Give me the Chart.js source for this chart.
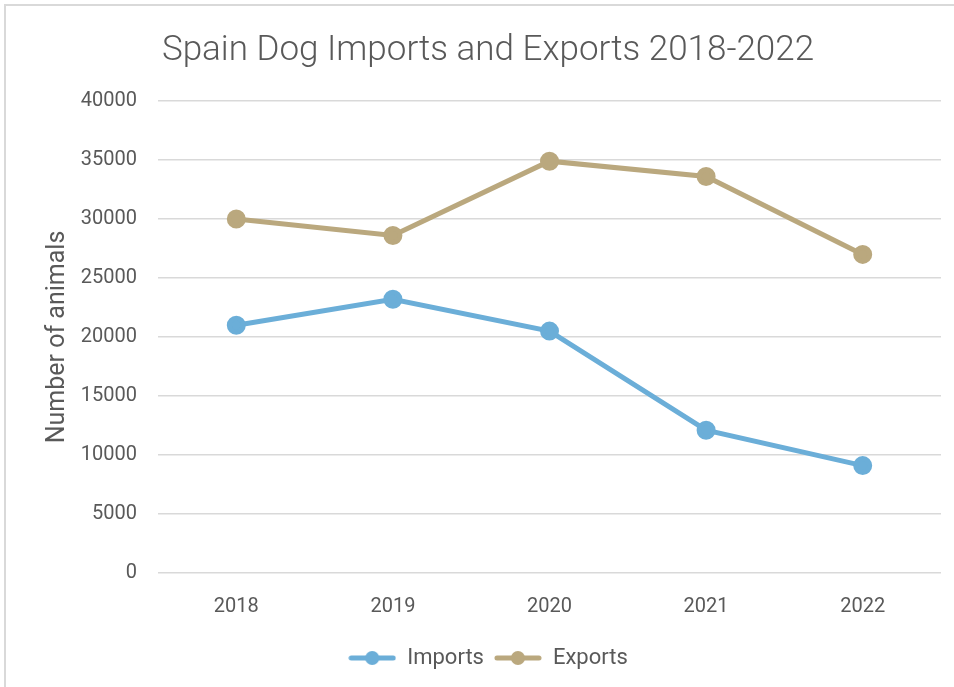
<!DOCTYPE html>
<html>
<head>
<meta charset="utf-8">
<script src="https://cdn.jsdelivr.net/npm/chart.js@4.4.1/dist/chart.umd.min.js"></script>
<style>
  html, body { margin: 0; padding: 0; background: #fff; overflow: hidden; }
  #frame {
    position: absolute; left: 4px; top: 4px; width: 2000px; height: 2000px;
    border: 2px solid #d9d9d9; box-sizing: border-box;
  }
  #wrap { position: absolute; left: 0; top: 0; width: 954px; height: 687px; }
</style>
</head>
<body>
<div id="frame"></div>
<div id="wrap"><canvas id="myChart"></canvas></div>
<script>
const years = ['2018', '2019', '2020', '2021', '2022'];
const imports = [21000, 23200, 20500, 12100, 9100];
const exports = [30000, 28600, 34900, 33600, 27000];

const blue = 'rgb(107, 174, 216)';
const tan = 'rgb(186, 168, 126)';
const textColor = '#595959';
const fontFamily = 'Roboto, "Noto Sans", sans-serif';

// legend marker: a short line with a dot in the middle
const legendMarker = (color) => {
    const c = document.createElement('canvas');
    c.width = 48;
    c.height = 16;
    const g = c.getContext('2d');
    g.strokeStyle = color;
    g.lineWidth = 5;
    g.lineCap = 'round';
    g.beginPath();
    g.moveTo(3, 8);
    g.lineTo(45, 8);
    g.stroke();
    g.fillStyle = color;
    g.beginPath();
    g.arc(24, 8, 7, 0, Math.PI * 2);
    g.fill();
    return c;
};
const markers = [legendMarker(blue), legendMarker(tan)];

const ctx = document.getElementById('myChart');

new Chart(ctx, {
    type: 'line',
    data: {
        labels: years,
        datasets: [
            {
                label: 'Imports',
                data: imports,
                borderColor: blue,
                backgroundColor: blue,
                borderWidth: 5,
                pointRadius: 7,
                pointHoverRadius: 7,
                tension: 0,
            },
            {
                label: 'Exports',
                data: exports,
                borderColor: tan,
                backgroundColor: tan,
                borderWidth: 5,
                pointRadius: 7,
                pointHoverRadius: 7,
                tension: 0,
            },
        ],
    },
    options: {
        responsive: true,
        maintainAspectRatio: false,
        animation: false,
        layout: {
            padding: { left: 35, right: 13, top: 22, bottom: 8 },
        },
        scales: {
            x: {
                offset: true,
                afterFit: (scale) => { scale.height = 64; },
                border: { display: false },
                grid: { display: false },
                ticks: {
                    color: textColor,
                    padding: 14,
                    font: { family: fontFamily, size: 20 },
                },
            },
            y: {
                min: 0,
                max: 40000,
                afterFit: (scale) => { scale.width = 123; },
                border: { display: false },
                grid: {
                    color: '#d9d9d9',
                    lineWidth: 1.5,
                    drawTicks: false,
                },
                ticks: {
                    stepSize: 5000,
                    color: textColor,
                    padding: 21,
                    font: { family: fontFamily, size: 20 },
                    callback: (value) => String(value),
                },
                title: {
                    display: true,
                    text: 'Number of animals',
                    color: textColor,
                    font: { family: fontFamily, size: 25 },
                    padding: { top: 8, bottom: 0 },
                },
            },
        },
        plugins: {
            title: {
                display: true,
                text: 'Spain Dog Imports and Exports 2018-2022',
                color: textColor,
                font: { family: fontFamily, size: 35, weight: 300 },
                padding: { top: 8, bottom: 29 },
            },
            legend: {
                position: 'bottom',
                labels: {
                    color: textColor,
                    usePointStyle: true,
                    pointStyleWidth: 48,
                    padding: 10,
                    font: { family: fontFamily, size: 22 },
                    generateLabels: (chart) => {
                        const items = Chart.defaults.plugins.legend.labels.generateLabels(chart);
                        items.forEach((item, i) => { item.pointStyle = markers[i]; });
                        return items;
                    },
                },
            },
            tooltip: { enabled: false },
        },
    },
});
</script>
</body>
</html>
